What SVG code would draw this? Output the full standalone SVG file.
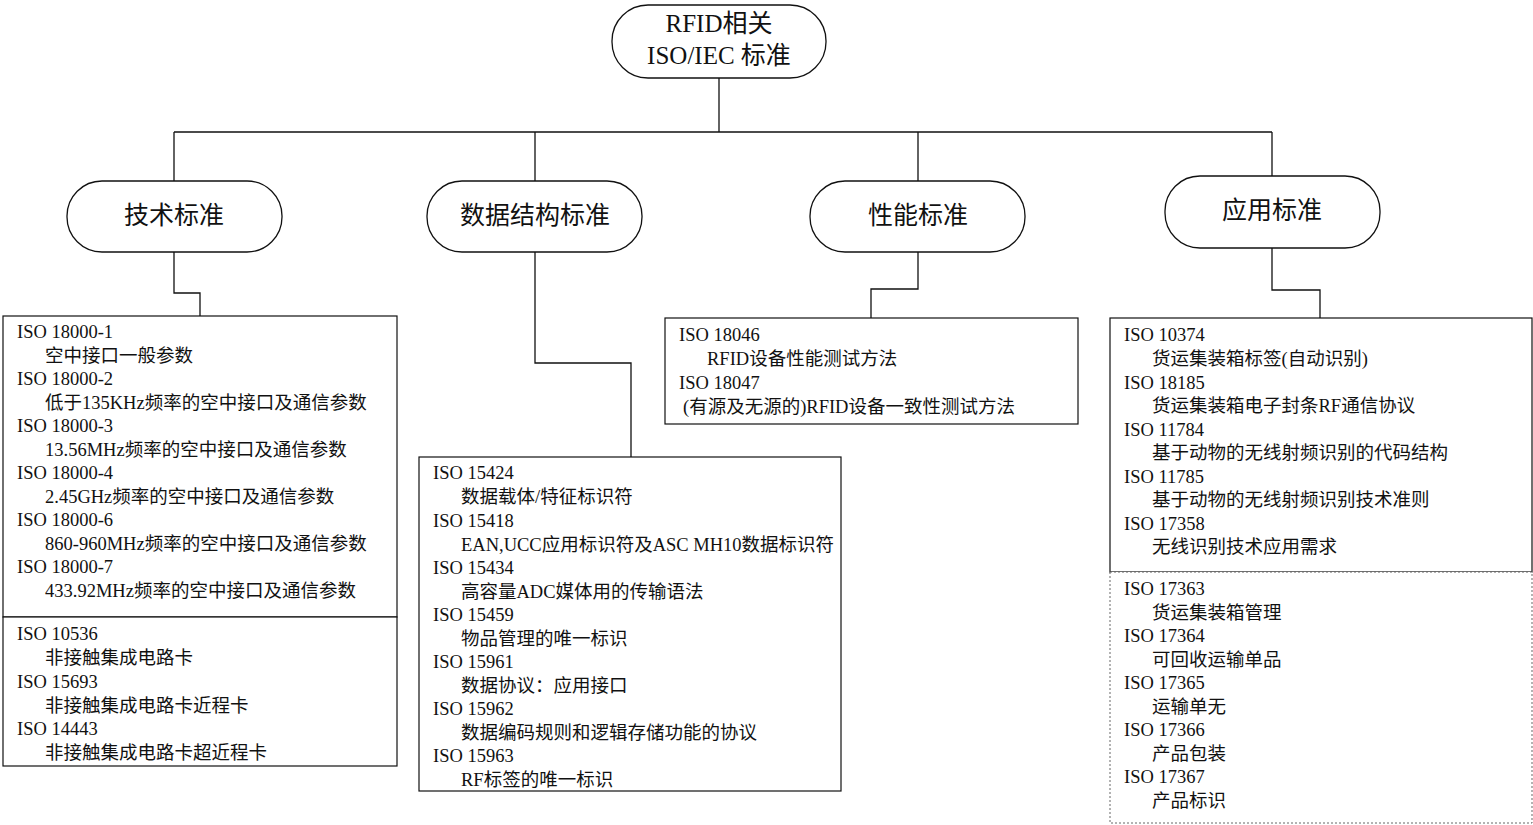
<svg xmlns="http://www.w3.org/2000/svg" width="1533" height="825" viewBox="0 0 1533 825">
<style>
text{font-family:"Liberation Serif","Noto Sans CJK SC",serif;font-size:18.5px;fill:#111}
.big{font-size:25px}
.pill{fill:#fff;stroke:#111;stroke-width:1.3}
.box{fill:#fff;stroke:#111;stroke-width:1.2}
.dash{fill:#fff;stroke:#666;stroke-width:1;stroke-dasharray:2 2}
#conn path{fill:none;stroke:#111;stroke-width:1.3}
</style>
<rect width="1533" height="825" fill="#fff"/>
<g id="conn">
<path d="M719 78V132M174 132H918M174 132V181M535 132V181M918 132V181M1272 132H918M1272 132V176"/>
<path d="M174 252V293H200V316"/>
<path d="M535 252V363H631V457"/>
<path d="M918 252V289H871V318"/>
<path d="M1272 248V290H1320V318"/>
</g>
<g id="root"><rect class="pill" x="612" y="5" width="214" height="73" rx="36"/>
<text class="big" x="719" y="32" text-anchor="middle">RFID相关</text>
<text class="big" x="719" y="64" text-anchor="middle">ISO/IEC 标准</text></g>
<g id="n1"><rect class="pill" x="67" y="181" width="215" height="71" rx="35"/><text class="big" x="174" y="224" text-anchor="middle">技术标准</text></g>
<g id="n2"><rect class="pill" x="427" y="181" width="215" height="71" rx="35"/><text class="big" x="535" y="224" text-anchor="middle">数据结构标准</text></g>
<g id="n3"><rect class="pill" x="810" y="181" width="215" height="71" rx="35"/><text class="big" x="918" y="224" text-anchor="middle">性能标准</text></g>
<g id="n4"><rect class="pill" x="1165" y="176" width="215" height="72" rx="35"/><text class="big" x="1272" y="219" text-anchor="middle">应用标准</text></g>
<g id="b1"><rect class="box" x="3" y="316" width="394" height="301"/>
<text x="17" y="338">ISO 18000-1</text><text x="45" y="362">空中接口一般参数</text>
<text x="17" y="385">ISO 18000-2</text><text x="45" y="409">低于135KHz频率的空中接口及通信参数</text>
<text x="17" y="432">ISO 18000-3</text><text x="45" y="456">13.56MHz频率的空中接口及通信参数</text>
<text x="17" y="479">ISO 18000-4</text><text x="45" y="503">2.45GHz频率的空中接口及通信参数</text>
<text x="17" y="526">ISO 18000-6</text><text x="45" y="550">860-960MHz频率的空中接口及通信参数</text>
<text x="17" y="573">ISO 18000-7</text><text x="45" y="597">433.92MHz频率的空中接口及通信参数</text></g>
<g id="b1b"><rect class="box" x="3" y="617" width="394" height="149"/>
<text x="17" y="640">ISO 10536</text><text x="45" y="664">非接触集成电路卡</text>
<text x="17" y="688">ISO 15693</text><text x="45" y="712">非接触集成电路卡近程卡</text>
<text x="17" y="735">ISO 14443</text><text x="45" y="759">非接触集成电路卡超近程卡</text></g>
<g id="b2"><rect class="box" x="419" y="457" width="422" height="334"/>
<text x="433" y="479">ISO 15424</text><text x="461" y="503">数据载体/特征标识符</text>
<text x="433" y="527">ISO 15418</text><text x="461" y="551">EAN,UCC应用标识符及ASC MH10数据标识符</text>
<text x="433" y="574">ISO 15434</text><text x="461" y="598">高容量ADC媒体用的传输语法</text>
<text x="433" y="621">ISO 15459</text><text x="461" y="645">物品管理的唯一标识</text>
<text x="433" y="668">ISO 15961</text><text x="461" y="692">数据协议：应用接口</text>
<text x="433" y="715">ISO 15962</text><text x="461" y="739">数据编码规则和逻辑存储功能的协议</text>
<text x="433" y="762">ISO 15963</text><text x="461" y="786">RF标签的唯一标识</text></g>
<g id="b3"><rect class="box" x="665" y="318" width="413" height="106"/>
<text x="679" y="341">ISO 18046</text><text x="707" y="365">RFID设备性能测试方法</text>
<text x="679" y="389">ISO 18047</text><text x="683" y="413">(有源及无源的)RFID设备一致性测试方法</text></g>
<g id="b4"><rect class="box" x="1110" y="318" width="422" height="254"/>
<text x="1124" y="341">ISO 10374</text><text x="1152" y="365">货运集装箱标签(自动识别)</text>
<text x="1124" y="389">ISO 18185</text><text x="1152" y="412">货运集装箱电子封条RF通信协议</text>
<text x="1124" y="436">ISO 11784</text><text x="1152" y="459">基于动物的无线射频识别的代码结构</text>
<text x="1124" y="483">ISO 11785</text><text x="1152" y="506">基于动物的无线射频识别技术准则</text>
<text x="1124" y="530">ISO 17358</text><text x="1152" y="553">无线识别技术应用需求</text></g>
<g id="b4b"><rect class="dash" x="1110" y="572" width="422" height="251"/>
<text x="1124" y="595">ISO 17363</text><text x="1152" y="619">货运集装箱管理</text>
<text x="1124" y="642">ISO 17364</text><text x="1152" y="666">可回收运输单品</text>
<text x="1124" y="689">ISO 17365</text><text x="1152" y="713">运输单无</text>
<text x="1124" y="736">ISO 17366</text><text x="1152" y="760">产品包装</text>
<text x="1124" y="783">ISO 17367</text><text x="1152" y="807">产品标识</text></g>
</svg>
